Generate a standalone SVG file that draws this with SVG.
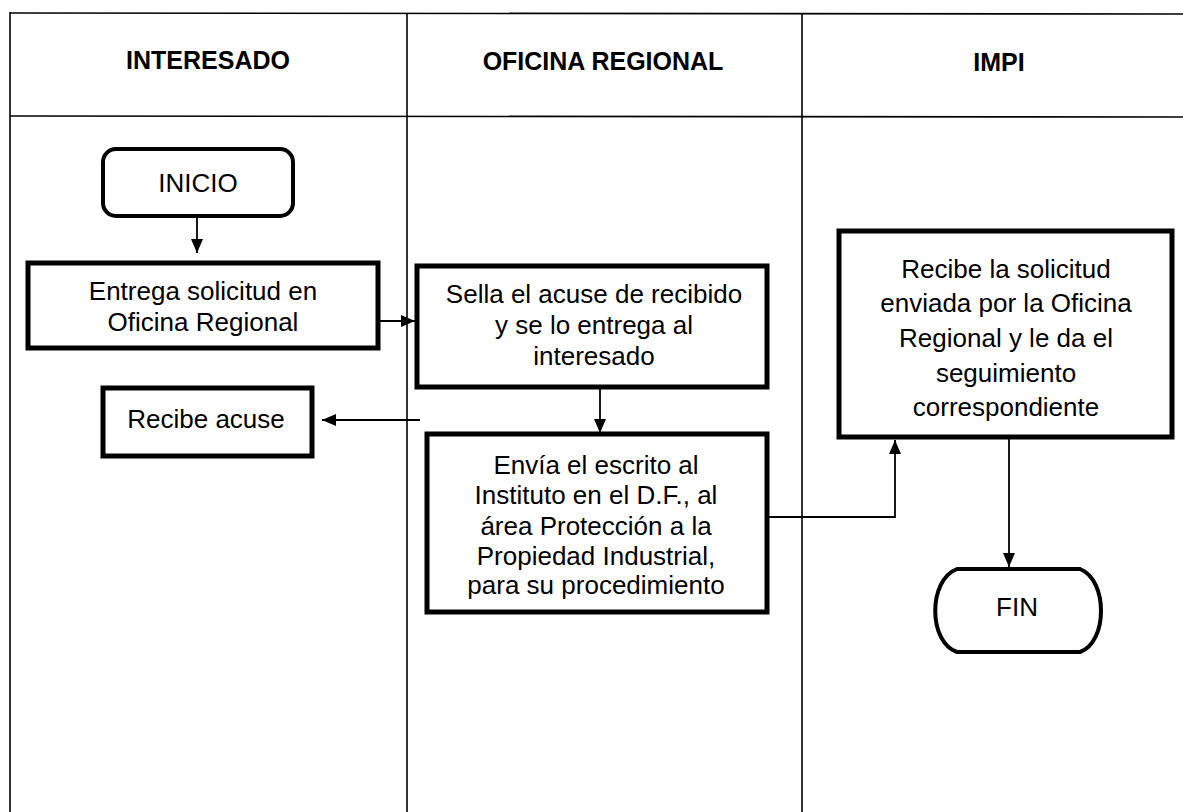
<svg xmlns="http://www.w3.org/2000/svg" width="1183" height="812" viewBox="0 0 1183 812">
<style>
.lane{stroke:#000;stroke-width:1.6;fill:none}
.hdr{font-family:"Liberation Sans",Arial,sans-serif;font-weight:bold;font-size:25px;text-anchor:middle;fill:#000}
.box{fill:#fff;stroke:#000;stroke-width:5}
.term{fill:#fff;stroke:#000;stroke-width:4}
.t{font-family:"Liberation Sans",Arial,sans-serif;font-size:26px;text-anchor:middle;fill:#000}
.con{stroke:#000;stroke-width:1.8;fill:none;marker-end:url(#ah)}
</style>
<defs>
<marker id="ah" viewBox="0 0 14 12" refX="14" refY="6" markerWidth="14" markerHeight="12" markerUnits="userSpaceOnUse" orient="auto">
<path d="M0,0 L14,6 L0,12 Z" fill="#000"/>
</marker>
</defs>
<rect width="1183" height="812" fill="#fff"/>
<g id="lanes">
<line class="lane" x1="10" y1="13" x2="1183" y2="14"/>
<line class="lane" x1="10" y1="116" x2="1183" y2="117"/>
<line class="lane" x1="10" y1="12" x2="10" y2="812"/>
<line class="lane" x1="407" y1="13" x2="407" y2="812"/>
<line class="lane" x1="802" y1="14" x2="802" y2="812"/>
<text class="hdr" x="208" y="69">INTERESADO</text>
<text class="hdr" x="603" y="70">OFICINA REGIONAL</text>
<text class="hdr" x="999" y="71">IMPI</text>
</g>
<g id="connectors">
<line class="con" x1="197" y1="217" x2="197" y2="253"/>
<line class="con" x1="378" y1="321" x2="415" y2="321"/>
<line class="con" x1="420" y1="420" x2="322" y2="420"/>
<line class="con" x1="600" y1="388" x2="600" y2="433"/>
<polyline class="con" points="767,517 895,517 895,440"/>
<line class="con" x1="1009" y1="438" x2="1009" y2="567"/>
</g>
<g id="inicio">
<rect class="term" x="103" y="149" width="190" height="67" rx="13"/>
<text class="t" x="198" y="192">INICIO</text>
</g>
<g id="entrega">
<rect class="box" x="28" y="263" width="350" height="85"/>
<text class="t" x="203" y="300">Entrega solicitud en</text>
<text class="t" x="203" y="331">Oficina Regional</text>
</g>
<g id="recibe-acuse">
<rect class="box" x="103" y="388" width="209" height="68"/>
<text class="t" x="206" y="428">Recibe acuse</text>
</g>
<g id="sella">
<rect class="box" x="417" y="266" width="350" height="121"/>
<text class="t" x="594" y="303">Sella el acuse de recibido</text>
<text class="t" x="594" y="334">y se lo entrega al</text>
<text class="t" x="594" y="365">interesado</text>
</g>
<g id="envia">
<rect class="box" x="427" y="434" width="340" height="178"/>
<text class="t" x="596" y="474">Envía el escrito al</text>
<text class="t" x="596" y="504">Instituto en el D.F., al</text>
<text class="t" x="596" y="535">área Protección a la</text>
<text class="t" x="596" y="565">Propiedad Industrial,</text>
<text class="t" x="596" y="594">para su procedimiento</text>
</g>
<g id="recibe-solicitud">
<rect class="box" x="839" y="231" width="333" height="206"/>
<text class="t" x="1006" y="278">Recibe la solicitud</text>
<text class="t" x="1006" y="312">enviada por la Oficina</text>
<text class="t" x="1006" y="347">Regional y le da el</text>
<text class="t" x="1006" y="382">seguimiento</text>
<text class="t" x="1006" y="416">correspondiente</text>
</g>
<g id="fin">
<path class="term" d="M957,569 H1080 C1108,580 1108,642 1080,652 H957 C928,642 928,580 957,569 Z"/>
<text class="t" x="1017" y="616">FIN</text>
</g>
</svg>
